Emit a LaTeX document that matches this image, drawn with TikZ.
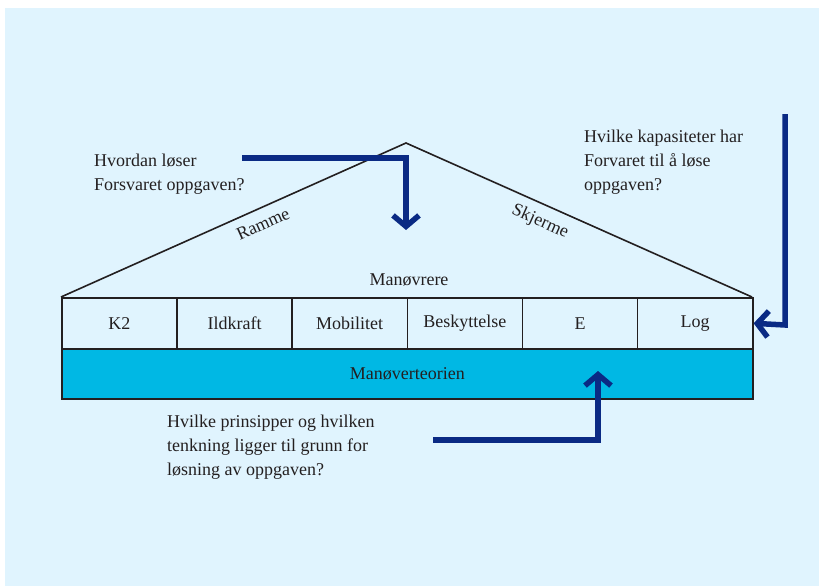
\documentclass[tikz,border=0pt]{standalone}
\usepackage{fontspec}
\setmainfont{Liberation Serif}
\usetikzlibrary{arrows.meta}
\definecolor{bgblue}{HTML}{E0F4FE}
\definecolor{cyanbar}{HTML}{00B8E4}
\definecolor{navy}{HTML}{0A2A84}
\definecolor{ink}{HTML}{231F20}
\tikzset{
  txt/.style={text=ink, font=\fontsize{18}{24}\selectfont, inner sep=0pt},
  qtext/.style={txt, align=left, anchor=north west},
  cell/.style={draw=ink, line width=1.6pt, minimum width=115.17pt, minimum height=51pt, inner sep=0pt, anchor=north west, txt},
  roof/.style={draw=ink, line width=1.6pt},
  flow/.style={draw=navy, line width=5.5pt, line join=miter,
    -{Straight Barb[length=11pt,width=26pt,line join=miter]}}
}
\begin{document}
\begin{tikzpicture}[x=1pt,y=-1pt]
\useasboundingbox (0,0) rectangle (819,586);
\fill[bgblue] (5,8) rectangle (819,586);

% roof
\coordinate (apex) at (406,143);
\coordinate (bl) at (61,297);
\coordinate (br) at (752,297);
\draw[roof] (bl) -- (apex) -- (br);

% capability row
\node[cell] (k2)  at (61,297) {K2};
\node[cell] (ild) at (176.17,297) {Ildkraft};
\node[cell] (mob) at (291.33,297) {Mobilitet};
\node[cell] (besk) at (406.5,297) {Beskyttelse};
\node[cell] (e)   at (521.67,297) {E};
\node[cell] (log) at (636.83,297) {Log};

% theory bar
\node[cell, fill=cyanbar, minimum width=691pt, minimum height=50pt] (teori) at (61,348) {Manøverteorien};

% labels
\node[txt] (manov) at (409,280) {Manøvrere};
\node[txt, rotate=24] (ramme) at (263,224) {Ramme};
\node[txt, rotate=-24] (skjerme) at (540,222) {Skjerme};

% questions
\node[qtext] (q1) at (94,153.6) {Hvordan løser\\Forsvaret oppgaven?};
\node[qtext] (q2) at (584,129.6) {Hvilke kapasiteter har\\Forvaret til å løse\\oppgaven?};
\node[qtext] (q3) at (167,414.6) {Hvilke prinsipper og hvilken\\tenkning ligger til grunn for\\løsning av oppgaven?};

% arrows
\coordinate (a1s) at (242,158);
\coordinate (a1c) at (406,158);
\coordinate (a1e) at (406,230);
\draw[flow] (a1s) -- (a1c) -- (a1e);

\coordinate (a2s) at (785,114);
\coordinate (a2c) at (785,325);
\draw[flow] (a2s) -- (a2c) -- (log.east);

\coordinate (a3s) at (433,440);
\coordinate (a3c) at (598,440);
\coordinate (a3e) at (598,371);
\draw[flow] (a3s) -- (a3c) -- (a3e);
\end{tikzpicture}
\end{document}
